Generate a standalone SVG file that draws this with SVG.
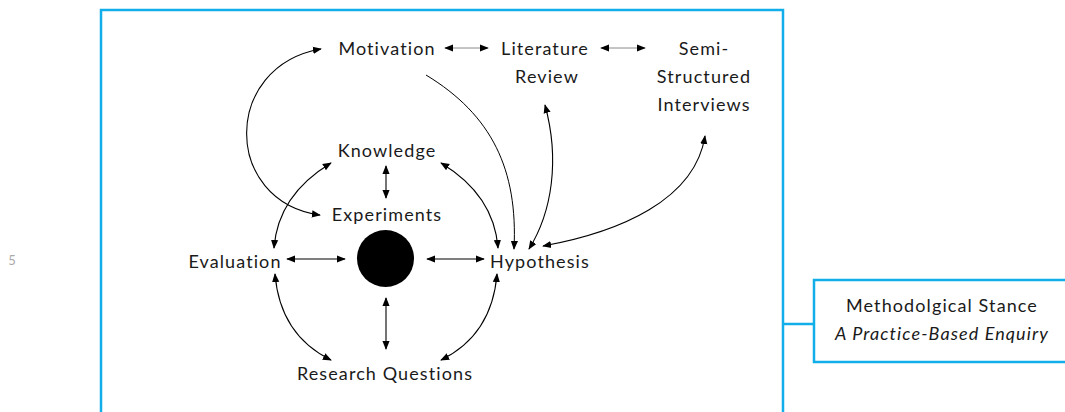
<svg xmlns="http://www.w3.org/2000/svg" width="1065" height="412" viewBox="0 0 1065 412">
<style>
text{font-family:Lato,"Open Sans","Liberation Sans",sans-serif;font-size:18px;letter-spacing:1.1px;fill:#1a1a1a;text-anchor:middle}
.frame{fill:none;stroke:#12aeea;stroke-width:2.5}
.c{fill:none;stroke:#000;stroke-width:1.1;marker-start:url(#ah);marker-end:url(#ah)}
.ce{fill:none;stroke:#000;stroke-width:1;marker-end:url(#ah)}
.g{fill:none;stroke:#8a8a8a;stroke-width:1;marker-start:url(#ah);marker-end:url(#ah)}
</style>
<defs>
<marker id="ah" viewBox="0 0 10 10" refX="9" refY="5" markerWidth="9" markerHeight="9" markerUnits="userSpaceOnUse" orient="auto-start-reverse">
<path d="M0,1 L10,5 L0,9 z" fill="#000"/>
</marker>
</defs>
<rect width="1065" height="412" fill="#fff"/>
<text x="12" y="265" style="font-size:13px;fill:#aaa;letter-spacing:0">5</text>
<g id="frame">
<rect class="frame" x="101" y="10" width="682" height="430"/>
<line class="frame" x1="783" y1="324" x2="814" y2="324"/>
</g>
<g id="stance">
<rect class="frame" x="814" y="280" width="300" height="82"/>
<text x="942" y="312">Methodolgical Stance</text>
<text x="942" y="340" style="font-style:italic">A Practice-Based Enquiry</text>
</g>
<g id="connectors">
<line class="g" x1="445" y1="48" x2="488" y2="48"/>
<line class="g" x1="601" y1="48" x2="645" y2="48"/>
<path class="c" d="M321,49 C222,66 222,201 320,215"/>
<line class="c" x1="386" y1="166" x2="386" y2="198"/>
<line class="c" x1="287" y1="259" x2="345" y2="259"/>
<line class="c" x1="427" y1="259" x2="484" y2="259"/>
<line class="c" x1="386" y1="298" x2="386" y2="349"/>
<path class="c" d="M274,248 Q278,195 331,163"/>
<path class="c" d="M498,248 Q494,195 441,163"/>
<path class="c" d="M275,274 Q280,335 331,360"/>
<path class="c" d="M497,274 Q492,335 441,360"/>
<path class="ce" d="M426,75 C492,115 518,170 514,249"/>
<path class="c" d="M545,105 C560,160 552,212 529,249"/>
<path class="c" d="M705,136 C695,200 620,232 543,246"/>
</g>
<g id="n-motivation"><text x="387" y="55">Motivation</text></g>
<g id="n-literature"><text x="545" y="55">Literature</text><text x="547" y="83">Review</text></g>
<g id="n-semi"><text x="704" y="55">Semi-</text><text x="704" y="83">Structured</text><text x="704" y="111">Interviews</text></g>
<g id="n-knowledge"><text x="387" y="157">Knowledge</text></g>
<g id="n-experiments"><text x="387" y="221">Experiments</text></g>
<g id="n-evaluation"><text x="235" y="268">Evaluation</text></g>
<g id="n-hypothesis"><text x="540" y="268">Hypothesis</text></g>
<g id="n-center"><circle cx="385.5" cy="258.5" r="28.5" fill="#000"/></g>
<g id="n-rq"><text x="385" y="380">Research Questions</text></g>
</svg>
